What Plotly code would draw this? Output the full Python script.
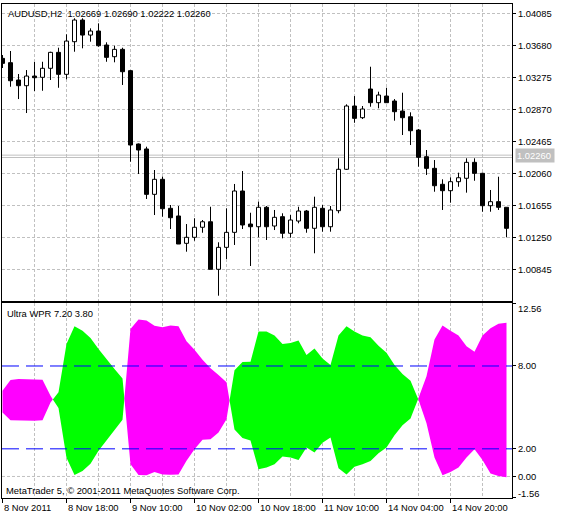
import plotly.graph_objects as go

# ---------------- data ----------------
bars = list(range(64))
open_ = [1.03515, 1.03460, 1.03241, 1.03169, 1.03291, 1.03275, 1.03389, 1.03591, 1.03313, 1.03726,
         1.04000, 1.03810, 1.03861, 1.03684, 1.03536, 1.03629, 1.03359, 1.02431, 1.02368, 1.01794,
         1.01984, 1.01617, 1.01520, 1.01174, 1.01250, 1.01377, 1.01447, 1.00845, 1.01123, 1.01313,
         1.01836, 1.01418, 1.01384, 1.01630, 1.01393, 1.01511, 1.01301, 1.01456, 1.01583, 1.01364,
         1.01617, 1.01384, 1.01587, 1.02111, 1.02912, 1.02764, 1.03127, 1.02954, 1.03038, 1.02975,
         1.02848, 1.02776, 1.02608, 1.02270, 1.02123, 1.01921, 1.01840, 1.01954, 1.01997, 1.02199,
         1.02060, 1.01650, 1.01701, 1.01630]
high = [1.03557, 1.03608, 1.03317, 1.03367, 1.03469, 1.03472, 1.03599, 1.03650, 1.03819, 1.04022,
        1.04022, 1.03895, 1.03958, 1.03718, 1.03675, 1.03650, 1.03367, 1.02437, 1.02397, 1.02102,
        1.02017, 1.01659, 1.01646, 1.01418, 1.01491, 1.01469, 1.01637, 1.01187, 1.01617, 1.01925,
        1.02089, 1.01561, 1.01701, 1.01646, 1.01596, 1.01554, 1.01532, 1.01637, 1.01596, 1.01764,
        1.01659, 1.01646, 1.02250, 1.02933, 1.03038, 1.02912, 1.03409, 1.03093, 1.03143, 1.03000,
        1.03080, 1.02832, 1.02621, 1.02355, 1.02228, 1.01984, 1.02009, 1.02068, 1.02250, 1.02250,
        1.02068, 1.01849, 1.02017, 1.01630]
low = [1.03393, 1.03156, 1.03000, 1.02823, 1.03102, 1.03105, 1.03241, 1.03143, 1.03250, 1.03599,
       1.03642, 1.03726, 1.03662, 1.03472, 1.03465, 1.03178, 1.02207, 1.02051, 1.01735, 1.01532,
       1.01511, 1.01355, 1.01165, 1.01068, 1.01207, 1.01308, 1.00845, 1.00511, 1.00975, 1.01153,
       1.01355, 1.00887, 1.01250, 1.01216, 1.01342, 1.01237, 1.01245, 1.01427, 1.01308, 1.01048,
       1.01321, 1.01321, 1.01554, 1.02102, 1.02700, 1.02747, 1.02903, 1.02883, 1.02954, 1.02726,
       1.02545, 1.02418, 1.02144, 1.02039, 1.01827, 1.01596, 1.01688, 1.01890, 1.01815, 1.01966,
       1.01574, 1.01574, 1.01596, 1.01250]
close = [1.03452, 1.03232, 1.03169, 1.03291, 1.03270, 1.03389, 1.03591, 1.03313, 1.03734, 1.04000,
         1.03810, 1.03861, 1.03675, 1.03528, 1.03629, 1.03346, 1.02418, 1.02355, 1.01794, 1.01984,
         1.01612, 1.01498, 1.01165, 1.01250, 1.01377, 1.01447, 1.00845, 1.01123, 1.01313, 1.01836,
         1.01406, 1.01384, 1.01630, 1.01384, 1.01503, 1.01301, 1.01469, 1.01583, 1.01364, 1.01630,
         1.01384, 1.01596, 1.02111, 1.02912, 1.02756, 1.02874, 1.02954, 1.03051, 1.02954, 1.02840,
         1.02764, 1.02599, 1.02263, 1.02123, 1.01903, 1.01840, 1.01954, 1.02004, 1.02199, 1.02060,
         1.01650, 1.01701, 1.01630, 1.01364]

# Ultra WPR: two lines, fill magenta where fast > slow, lime where slow > fast
wpr_fast = [6.21, 6.98, 7.05, 7.05, 7.05, 7.00, 5.84,
            4.95, 1.36, 0.10, 0.39, 0.92, 1.86, 2.58, 3.37, 4.10,
            10.68, 11.36, 11.29, 10.92, 10.81, 10.93, 10.88, 9.79, 9.18, 8.46, 7.83, 7.34, 6.82,
            3.40, 2.78, 2.60, 0.52, 0.64, 0.88, 1.44, 1.37, 1.20, 2.09, 1.73, 2.45, 2.82, 0.60,
            0.15, 0.71, 0.88, 1.12, 1.68, 2.10, 2.98, 3.71, 4.20,
            5.68, 7.25, 9.91, 10.93, 10.56, 10.20, 9.43, 9.04, 10.20, 10.73, 11.05, 11.13]
wpr_slow = [4.63, 4.07, 4.03, 4.03, 4.03, 4.07, 5.36,
            6.10, 9.59, 10.88, 10.56, 10.03, 9.23, 8.50, 7.78, 7.10,
            0.88, 0.10, 0.08, 0.32, 0.15, 0.13, 0.15, 1.13, 1.97, 2.65, 2.70, 3.18, 4.14,
            7.70, 8.28, 8.30, 10.49, 10.49, 10.20, 9.59, 9.67, 9.84, 8.80, 9.27, 8.55, 8.07, 10.20,
            10.88, 10.49, 10.20, 10.08, 9.47, 8.95, 8.07, 7.42, 6.93,
            5.55, 3.86, 1.37, 0.08, 0.32, 0.64, 1.37, 1.97, 1.20, 0.22, 0.03, -0.05]

time_ticks = [0, 8, 16, 24, 32, 40, 48, 56]
time_labels = ["8 Nov 2011", "8 Nov 18:00", "9 Nov 10:00", "10 Nov 02:00",
               "10 Nov 18:00", "11 Nov 10:00", "14 Nov 04:00", "14 Nov 20:00"]
price_ticks = [1.00845, 1.01250, 1.01655, 1.02060, 1.02465, 1.02870, 1.03275, 1.03680, 1.04085]
wpr_ticks = [12.56, 8.0, 2.0, 0.0, -1.56]
wpr_ticktext = ["", "8.00", "2.00", "0.00", ""]
wpr_levels = [8.0, 2.0]
bid = 1.02260
ask = 1.02290
header = "AUDUSD,H2  1.02669 1.02690 1.02222 1.02260"
ind_name = "Ultra WPR 7.20 3.80"
copyright_txt = "MetaTrader 5, \u00a9 2001-2011 MetaQuotes Software Corp."

# ---------------- style ----------------
FONT = "Liberation Sans, Arial, sans-serif"
FS = 9.4
GRID = "#c0c0c0"
GDASH = "3px,2px"
MAGENTA = "#ff00ff"
LIME = "#00ff00"
XR = [-0.0625, 63.6875]

fig = go.Figure()

# candle wicks (outside the bodies)
wx, wy = [], []
for i in bars:
    top = max(open_[i], close[i])
    bot = min(open_[i], close[i])
    wx += [i, i, None, i, i, None]
    wy += [high[i], top, None, bot, low[i], None]
fig.add_trace(go.Scatter(x=wx, y=wy, mode="lines", line=dict(color="black", width=1),
                         hoverinfo="skip", xaxis="x", yaxis="y"))

bull = [i for i in bars if close[i] >= open_[i]]
bear = [i for i in bars if close[i] < open_[i]]
fig.add_trace(go.Bar(x=bull, base=[open_[i] for i in bull],
                     y=[close[i] - open_[i] for i in bull], width=0.5,
                     marker=dict(color="white", line=dict(color="black", width=1)),
                     xaxis="x", yaxis="y"))
fig.add_trace(go.Bar(x=bear, base=[close[i] for i in bear],
                     y=[open_[i] - close[i] for i in bear], width=0.5,
                     marker=dict(color="black", line=dict(color="black", width=1)),
                     xaxis="x", yaxis="y"))

# indicator filling
d = [f - s for f, s in zip(wpr_fast, wpr_slow)]
runs = []
start = 0
for i in range(1, len(d)):
    if (d[i] > 0) != (d[i - 1] > 0):
        runs.append((start, i - 1))
        start = i
runs.append((start, len(d) - 1))


def crossing(i):
    t = d[i] / (d[i] - d[i + 1])
    return i + t, wpr_fast[i] + t * (wpr_fast[i + 1] - wpr_fast[i])


for a, b in runs:
    xs, ys = [], []
    if a > 0:
        cx, cy = crossing(a - 1)
        xs.append(cx); ys.append(cy)
    xs += list(range(a, b + 1)); ys += wpr_fast[a:b + 1]
    if b < len(d) - 1:
        cx, cy = crossing(b)
        xs.append(cx); ys.append(cy)
    xs += list(range(b, a - 1, -1)); ys += [wpr_slow[k] for k in range(b, a - 1, -1)]
    col = MAGENTA if d[a] > 0 else LIME
    fig.add_trace(go.Scatter(x=xs, y=ys, mode="lines", fill="toself", fillcolor=col,
                             line=dict(width=0, color=col), hoverinfo="skip",
                             xaxis="x2", yaxis="y2"))

shapes = []
for p in (bid, ask):
    shapes.append(dict(type="line", xref="x domain", x0=0, x1=1, yref="y", y0=p, y1=p,
                       line=dict(color=GRID, width=1), layer="below"))
shapes.append(dict(type="line", xref="x2 domain", x0=0, x1=1, yref="y2", y0=0, y1=0,
                   line=dict(color=GRID, width=1, dash=GDASH), layer="below"))
for lv in wpr_levels:
    shapes.append(dict(type="line", xref="x2 domain", x0=0, x1=1, yref="y2", y0=lv, y1=lv,
                       line=dict(color="#0000ff", width=1, dash="17px,7px"), layer="above"))

tf = dict(size=FS, family=FONT, color="black")
annotations = [
    dict(text=header, xref="paper", yref="paper", x=0, y=1, xanchor="left", yanchor="middle",
         xshift=4, yshift=-9, showarrow=False, font=tf),
    dict(text=ind_name, xref="paper", yref="y2 domain", x=0, y=1, xanchor="left", yanchor="middle",
         xshift=3, yshift=-10, showarrow=False, font=tf),
    dict(text=copyright_txt, xref="paper", yref="y2 domain", x=0, y=0, xanchor="left",
         yanchor="middle", xshift=2, yshift=8, showarrow=False, font=tf),
    dict(text="%.2f" % wpr_ticks[0], xref="paper", yref="y2 domain", x=1, y=1, xanchor="left",
         yanchor="middle", xshift=4, yshift=-5, showarrow=False, font=tf),
    dict(text="%.2f" % wpr_ticks[-1], xref="paper", yref="y2 domain", x=1, y=0, xanchor="left",
         yanchor="middle", xshift=4, yshift=5, showarrow=False, font=tf),
    dict(text="%.5f" % bid, xref="paper", yref="y", x=1, y=bid, xanchor="left", yanchor="middle",
         xshift=3, yshift=2, showarrow=False, bgcolor=GRID, borderpad=1, width=36, align="left",
         font=dict(size=FS, family=FONT, color="white")),
]
# time labels, left-aligned at their ticks
for tv, tl in zip(time_ticks, time_labels):
    annotations.append(dict(text=tl, xref="x2", yref="y2 domain", x=tv, y=0, xanchor="left",
                            yanchor="middle", xshift=-1, yshift=-9, showarrow=False, font=tf))

axis_line = dict(showline=True, linecolor="black", linewidth=1, mirror=True, zeroline=False,
                 automargin=False)
fig.update_layout(
    width=565, height=518,
    margin=dict(l=2, r=53, t=4, b=20, autoexpand=False),
    paper_bgcolor="white", plot_bgcolor="white",
    showlegend=False, barmode="overlay",
    font=dict(family=FONT, size=FS, color="black"),
    shapes=shapes, annotations=annotations,
    xaxis=dict(domain=[0, 1], anchor="y", range=XR, tickmode="linear", tick0=0, dtick=4,
               showticklabels=False, ticks="", showgrid=True, gridcolor=GRID, gridwidth=1,
               griddash=GDASH, **axis_line),
    yaxis=dict(domain=[0.3988, 1], anchor="x", side="right", range=[1.00444, 1.04203],
               tickmode="array", tickvals=price_ticks, tickformat=".5f", ticks="outside",
               ticklen=3, tickcolor="black", showgrid=True, gridcolor=GRID, griddash=GDASH,
               tickfont=tf, **axis_line),
    xaxis2=dict(domain=[0, 1], anchor="y2", range=XR, tickmode="array", tickvals=time_ticks,
                showticklabels=False, ticks="outside", ticklen=4, tickcolor="black",
                showgrid=True, gridcolor=GRID, griddash=GDASH,
                minor=dict(tickmode="linear", tick0=0, dtick=4, showgrid=True, gridcolor=GRID,
                           griddash=GDASH, ticks=""),
                **axis_line),
    yaxis2=dict(domain=[0, 0.3947], anchor="x2", side="right", range=[-1.56, 12.56],
                tickmode="array", tickvals=wpr_ticks, ticktext=wpr_ticktext, ticks="outside",
                ticklen=3, tickcolor="black", showgrid=False, tickfont=tf, **axis_line),
)

fig.write_html("out.html", config={"displayModeBar": False},
               post_script="document.body.style.margin='0px';document.body.style.padding='0px';")
